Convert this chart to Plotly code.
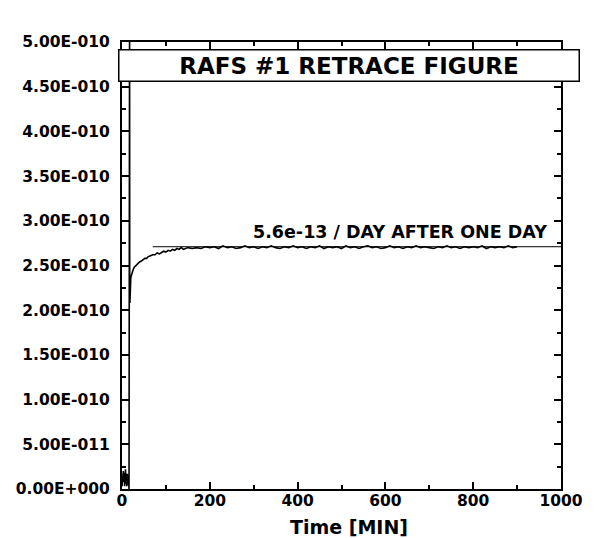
import plotly.graph_objects as go

# values in units of 1e-10
t_min = [
    0, 1, 2, 3, 4, 5, 6, 7, 8, 9, 10, 11, 12, 13, 14, 15, 16,
    16.5, 17, 17.3, 17.6,
    18, 19, 20, 22, 24, 26, 28, 30, 33, 36, 40, 44, 48, 52, 56, 60,
    65, 70, 75, 80, 85, 90, 95, 100, 105, 110, 115, 120, 125, 130,
    135, 140, 145, 150, 160, 170, 180, 190, 200,
    210, 220, 230, 240, 250, 260, 270, 280, 290, 300,
    310, 320, 330, 340, 350, 360, 370, 380, 390, 400,
    410, 420, 430, 440, 450, 460, 470, 480, 490, 500,
    510, 520, 530, 540, 550, 560, 570, 580, 590, 600,
    610, 620, 630, 640, 650, 660, 670, 680, 690, 700,
    710, 720, 730, 740, 750, 760, 770, 780, 790, 800,
    810, 820, 830, 840, 850, 860, 870, 880, 890, 900,
]
signal_e10 = [
    0.03, 0.12, 0.06, 0.20, 0.08, 0.18, 0.03, 0.15, 0.22, 0.06, 0.12, 0.03, 0.17, 0.09, 0.05, 0.12, 0.00,
    5.40, 0.00, 5.40, 2.10,
    2.08, 2.30, 2.36, 2.40, 2.44, 2.46, 2.48, 2.49, 2.51, 2.53, 2.54, 2.55, 2.57, 2.58, 2.58, 2.60,
    2.61, 2.62, 2.62, 2.64, 2.63, 2.65, 2.66, 2.65, 2.67, 2.66, 2.68, 2.67, 2.69, 2.68,
    2.70, 2.68, 2.69, 2.70, 2.69, 2.70, 2.69, 2.71, 2.70,
    2.71, 2.69, 2.72, 2.70, 2.71, 2.69, 2.70, 2.72, 2.70, 2.71,
    2.69, 2.71, 2.70, 2.72, 2.70, 2.69, 2.71, 2.70, 2.72, 2.70,
    2.71, 2.69, 2.71, 2.70, 2.72, 2.69, 2.71, 2.70, 2.71, 2.69,
    2.72, 2.70, 2.71, 2.69, 2.71, 2.72, 2.70, 2.71, 2.69, 2.70,
    2.72, 2.70, 2.71, 2.69, 2.71, 2.70, 2.72, 2.70, 2.71, 2.70,
    2.69, 2.71, 2.70, 2.72, 2.70, 2.71, 2.69, 2.71, 2.70, 2.71,
    2.70, 2.72, 2.69, 2.71, 2.70, 2.71, 2.70, 2.72, 2.70, 2.71,
]
signal = [v * 1e-10 for v in signal_e10]

fit_t = [70, 1000]
fit_v = [2.71e-10, 2.71e-10]

y_ticks = [0, 0.5e-10, 1.0e-10, 1.5e-10, 2.0e-10, 2.5e-10, 3.0e-10, 3.5e-10, 4.0e-10, 4.5e-10, 5.0e-10]
y_tick_text = ["0.00E+000", "5.00E-011", "1.00E-010", "1.50E-010", "2.00E-010", "2.50E-010",
               "3.00E-010", "3.50E-010", "4.00E-010", "4.50E-010", "5.00E-010"]

FONT = "DejaVu Sans"

fig = go.Figure()
fig.add_trace(go.Scatter(x=t_min, y=signal, mode="lines",
                         line=dict(color="black", width=1.6), showlegend=False))
fig.add_trace(go.Scatter(x=fit_t, y=fit_v, mode="lines",
                         line=dict(color="black", width=1), showlegend=False))

axis_common = dict(
    showline=True, linecolor="black", linewidth=2, mirror="allticks",
    ticks="inside", ticklen=7, tickwidth=1.5, tickcolor="black",
    showgrid=False, zeroline=False, automargin=False,
    tickfont=dict(family=FONT, size=15.5, color="black", weight="bold"),
)

fig.update_xaxes(
    range=[0, 1000], dtick=200, tick0=0,
    minor=dict(dtick=100, tick0=0, ticks="inside", ticklen=4, tickcolor="black", tickwidth=1.5),
    ticklabelstandoff=-4,
    **axis_common,
)
fig.update_yaxes(
    range=[0, 5e-10], tickmode="array", tickvals=y_ticks, ticktext=y_tick_text,
    minor=dict(dtick=0.25e-10, tick0=0, ticks="inside", ticklen=4, tickcolor="black", tickwidth=1.5),
    ticklabelstandoff=7,
    **axis_common,
)

fig.add_annotation(
    text="RAFS #1 RETRACE FIGURE", xref="paper", yref="paper",
    x=0.516, y=0.947, xanchor="center", yanchor="middle", showarrow=False,
    width=457, height=28, borderpad=1, borderwidth=1.5, bordercolor="black", bgcolor="white",
    font=dict(family=FONT, size=23, color="black", weight="bold"),
)
fig.add_annotation(
    text="5.6e-13 / DAY AFTER ONE DAY", xref="paper", yref="paper",
    x=0.633, y=0.574, xanchor="center", yanchor="middle", showarrow=False,
    font=dict(family=FONT, size=17.5, color="black", weight="bold"),
)
# x-axis title, placed as annotation so it sits a little right of centre like the original
fig.add_annotation(
    text="Time [MIN]", xref="paper", yref="paper",
    x=0.516, y=-0.058, xanchor="center", yanchor="top", showarrow=False,
    borderpad=0,
    font=dict(family=FONT, size=19, color="black", weight="bold"),
)

# page body adds ~8px offset, so the figure is drawn slightly smaller
fig.update_layout(
    width=588, height=530,
    margin=dict(l=114, r=35, t=34, b=49),
    paper_bgcolor="white", plot_bgcolor="white",
)

fig.write_html("out.html")
